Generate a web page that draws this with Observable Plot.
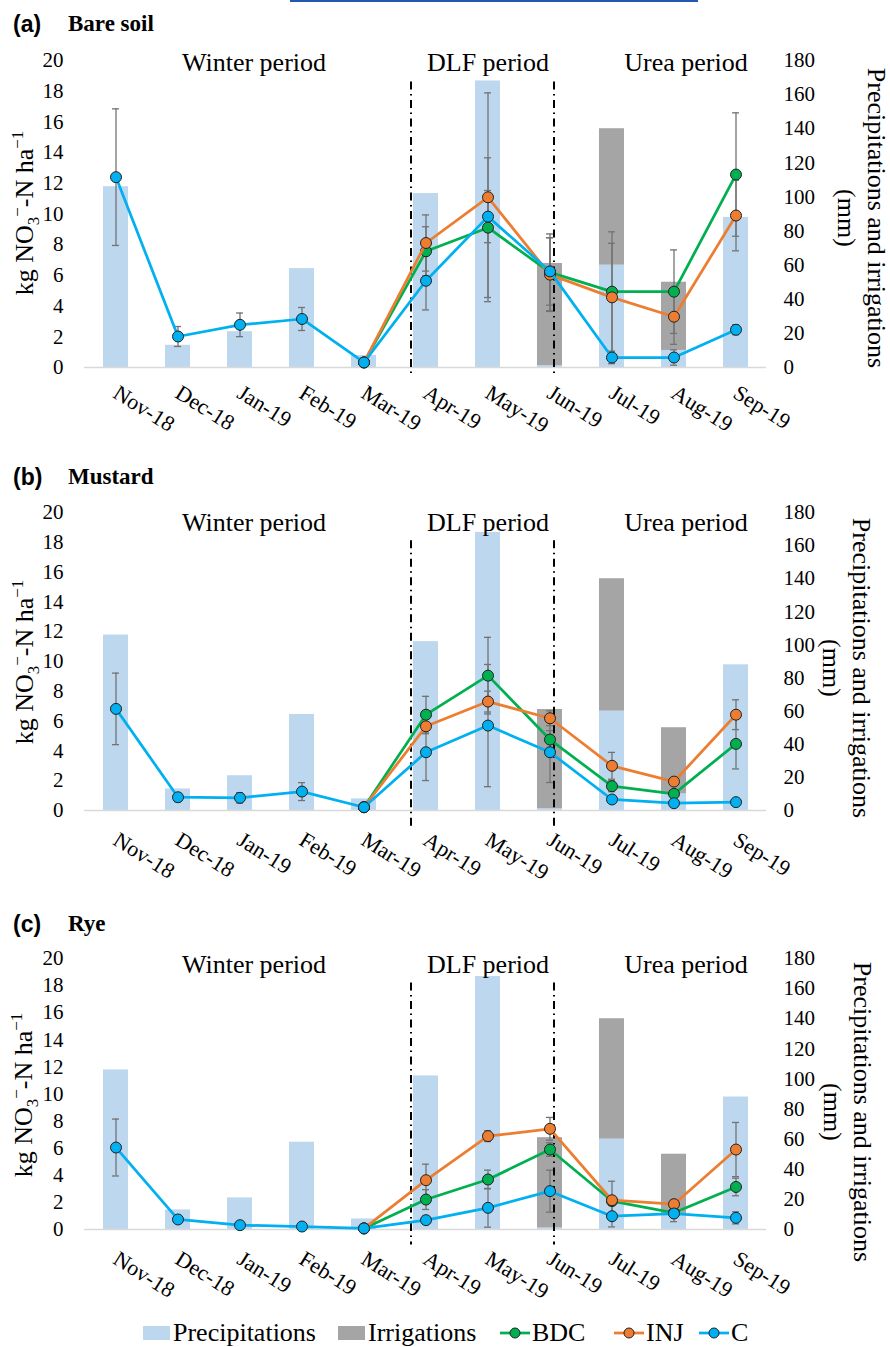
<!DOCTYPE html>
<html>
<head>
<meta charset="utf-8">
<script src="https://cdn.jsdelivr.net/npm/d3@7"></script>
<script src="https://cdn.jsdelivr.net/npm/@observablehq/plot@0.6"></script>
<style>
  body { margin: 0; background: #fff; }
  #root { position: relative; width: 890px; height: 1347px; overflow: hidden;
          font-family: "Liberation Serif", "Times New Roman", serif; color: #000; }
  .panel { position: absolute; left: 0; }
  .panel svg { overflow: visible; }
  .panel svg text { font-family: "Liberation Serif", "Times New Roman", serif; }
  .ptitle { position: absolute; font-size: 23px; line-height: 26px; white-space: nowrap; }
  .ptitle .lab { position: absolute; left: 13px; font-family: "Liberation Sans", Arial, sans-serif; font-weight: bold; }
  .ptitle .name { position: absolute; left: 68px; font-family: "Liberation Serif", serif; font-weight: bold; }
  .ytitle { position: absolute; font-size: 26px; line-height: 30px; white-space: nowrap;
            transform: translate(-50%, -50%) rotate(-90deg); }
  .ytitle sub, .ytitle sup { font-size: 17px; line-height: 0; }
  .rtitle { position: absolute; font-size: 26px; line-height: 30px; white-space: nowrap; text-align: center;
            transform: translate(-50%, -50%) rotate(90deg); }
  .leg { position: absolute; top: 1320px; height: 26px; font-size: 26px; line-height: 26px; white-space: nowrap;
         display: flex; align-items: center; font-family: "Liberation Serif", "Times New Roman", serif; }
  .leg .sw { display: inline-block; width: 27px; height: 14px; margin-right: 3px; }
  .leg svg { margin-right: 2px; }
</style>
</head>
<body>
<div id="root"></div>
<script>
// ---------------- DATA ----------------
const months = ["Nov-18","Dec-18","Jan-19","Feb-19","Mar-19","Apr-19","May-19","Jun-19","Jul-19","Aug-19","Sep-19"];

// mm per month (right axis)
const precipitation = [106, 13, 21, 58, 7, 102, 168, 1, 60, 10, 88];
const irrigation    = [0, 0, 0, 0, 0, 0, 0, 60, 80, 40, 0];

const seriesNames = ["BDC", "INJ", "C"];
const periodLabels  = ["Winter period", "DLF period", "Urea period"];
const periodMonths  = ["Jan-19", "May-19", "Aug-19"];
const dividerMonths = ["Apr-19", "Jun-19"];

// (a) Bare soil — kg NO3–-N ha–1
const bareBDC    = [null, null, null, null, 0.33, 7.57, 9.11, 6.2, 4.94, 4.94, 12.57];
const bareBDCerr = [null, null, null, null, 0, 1.6, 4.55, 2.5, 3.9, 2.72, 4.02];
const bareINJ    = [null, null, null, null, 0.33, 8.11, 11.09, 6.05, 4.57, 3.31, 9.9];
const bareINJerr = [null, null, null, null, 0, 1.83, 6.8, 2.4, 3.52, 1.8, 2.3];
const bareC      = [12.4, 2.02, 2.78, 3.16, 0.33, 5.65, 9.83, 6.26, 0.65, 0.65, 2.46];
const bareCerr   = [4.45, 0.65, 0.77, 0.75, 0.05, 1.9, 1.7, 2.2, 0.4, 0.5, 0.33];

// (b) Mustard
const mustBDC    = [null, null, null, null, 0.22, 6.43, 9.05, 4.76, 1.63, 1.12, 4.47];
const mustBDCerr = [null, null, null, null, 0, 1.23, 2.57, 0.6, 0.37, 0.2, 1.68];
const mustINJ    = [null, null, null, null, 0.22, 5.65, 7.31, 6.19, 3.0, 1.94, 6.43];
const mustINJerr = [null, null, null, null, 0, 0.5, 0.7, 0.5, 0.9, 0.2, 1.0];
const mustC      = [6.82, 0.89, 0.85, 1.27, 0.22, 3.91, 5.7, 3.91, 0.74, 0.49, 0.56];
const mustCerr   = [2.4, 0.3, 0.35, 0.6, 0.05, 1.9, 4.1, 2.03, 0.2, 0.1, 0.1];

// (c) Rye
const ryeBDC     = [null, null, null, null, 0.08, 2.21, 3.69, 5.9, 2.1, 1.23, 3.14];
const ryeBDCerr  = [null, null, null, null, 0, 0.73, 0.69, 0.5, 0.3, 0.3, 0.65];
const ryeINJ     = [null, null, null, null, 0.08, 3.64, 6.89, 7.43, 2.16, 1.87, 5.9];
const ryeINJerr  = [null, null, null, null, 0, 1.18, 0.4, 0.84, 1.4, 0.3, 2.0];
const ryeC       = [6.05, 0.74, 0.32, 0.22, 0.08, 0.69, 1.6, 2.83, 0.98, 1.18, 0.86];
const ryeCerr    = [2.1, 0.1, 0.05, 0.05, 0.02, 0.3, 1.43, 1.55, 0.79, 0.6, 0.45];

// ---------------- STYLE / LAYOUT ----------------
const SERIF = "Liberation Serif";
const colors = { BDC: "#00B050", INJ: "#ED7D31", C: "#00B0F0" };
const barColors = { Precipitations: "#BDD7EE", Irrigations: "#A5A5A5" };
const MM_PER_KG = 9; // 180 mm on the right axis ↔ 20 kg on the left axis

const panels = [
  { label: "(a)", name: "Bare soil", titleTop: 11, top: 40, height: 400, mt: 20, mb: 73,
    periodDy: 10, divTop: 18.6, divBottom: -0.5, xPad: 16,
    yTitle: [25, 213], rTitle: [861, 218],
    data: { BDC: [bareBDC, bareBDCerr], INJ: [bareINJ, bareINJerr], C: [bareC, bareCerr] } },
  { label: "(b)", name: "Mustard", titleTop: 464, top: 480, height: 400, mt: 32, mb: 70,
    periodDy: 18, divTop: 18.1, divBottom: -1.2, xPad: 20,
    yTitle: [25, 662], rTitle: [846, 668],
    data: { BDC: [mustBDC, mustBDCerr], INJ: [mustINJ, mustINJerr], C: [mustC, mustCerr] } },
  { label: "(c)", name: "Rye", titleTop: 911, top: 920, height: 380, mt: 38, mb: 71,
    periodDy: 14, divTop: 18.2, divBottom: -1.15, xPad: 20,
    yTitle: [24, 1095], rTitle: [847, 1112],
    data: { BDC: [ryeBDC, ryeBDCerr], INJ: [ryeINJ, ryeINJerr], C: [ryeC, ryeCerr] } }
];
const periodDx = [14, 0, 12];
const dividerDx = [-15, 4];

const root = document.getElementById("root");

// thin cropped rule seen at the very top of the source figure
const topRule = document.createElement("div");
Object.assign(topRule.style, { position: "absolute", left: "290px", top: "0px", width: "408px", height: "2px", background: "#2457b0" });
root.appendChild(topRule);

const rain = months.flatMap((m, i) => [
  { month: m, type: "Precipitations", mm: precipitation[i] },
  { month: m, type: "Irrigations", mm: irrigation[i] }
]);

for (const p of panels) {
  const marks = [];
  marks.push(Plot.barY(rain, { x: "month", y: d => d.mm / MM_PER_KG, fill: "type" }));
  marks.push(Plot.ruleY([0], { stroke: "#D9D9D9", strokeWidth: 1.5 }));

  // period dividers (dash-dot)
  dividerMonths.forEach((m, i) => {
    marks.push(Plot.ruleX([m], { x: d => d, y1: p.divTop, y2: p.divBottom, dx: dividerDx[i],
      stroke: "#000", strokeWidth: 2, strokeDasharray: "8,4.5,1.5,4.5" }));
  });

  // period labels
  periodLabels.forEach((t, i) => {
    marks.push(Plot.text([t], { x: () => periodMonths[i], y: 20, text: d => d, dx: periodDx[i], dy: p.periodDy,
      lineAnchor: "bottom", textAnchor: "middle", fontSize: 26, fontFamily: SERIF, fill: "#000" }));
  });

  const rows = {};
  for (const s of seriesNames) {
    const [vals, errs] = p.data[s];
    rows[s] = months.map((m, i) => ({ month: m, v: vals[i], e: errs[i] })).filter(d => d.v != null);
  }
  // error bars
  for (const s of seriesNames) {
    const eb = rows[s].filter(d => d.e > 0);
    marks.push(Plot.ruleX(eb, { x: "month", y1: d => d.v - d.e, y2: d => d.v + d.e, stroke: "#737373", strokeWidth: 1.3 }));
    marks.push(Plot.tickY(eb, { x: "month", y: d => d.v - d.e, stroke: "#737373", strokeWidth: 1.3, insetLeft: 9, insetRight: 9 }));
    marks.push(Plot.tickY(eb, { x: "month", y: d => d.v + d.e, stroke: "#737373", strokeWidth: 1.3, insetLeft: 9, insetRight: 9 }));
  }
  // lines + markers
  for (const s of seriesNames) {
    marks.push(Plot.line(rows[s], { x: "month", y: "v", stroke: colors[s], strokeWidth: 2.75 }));
    marks.push(Plot.dot(rows[s], { x: "month", y: "v", r: 5.5, fill: colors[s], stroke: "#222", strokeWidth: 1 }));
  }

  // axes
  marks.push(Plot.axisY(d3.range(0, 21, 2), { anchor: "left", tickSize: 0, tickPadding: 21, fontSize: 21,
    fontFamily: SERIF, fill: "#000", label: null }));
  marks.push(Plot.axisY(d3.range(0, 181, 20).map(v => v / MM_PER_KG), { anchor: "right", tickSize: 0, tickPadding: 17,
    fontSize: 21, fontFamily: SERIF, fill: "#000", label: null, tickFormat: d => String(Math.round(d * MM_PER_KG)) }));
  marks.push(Plot.axisX({ tickSize: 0, tickPadding: p.xPad, tickRotate: 32, textAnchor: "start", lineAnchor: "top",
    dx: 4, fontSize: 22, fontFamily: SERIF, fill: "#000", label: null }));

  const chart = Plot.plot({
    width: 890, height: p.height,
    marginLeft: 84, marginRight: 124, marginTop: p.mt, marginBottom: p.mb,
    x: { type: "band", domain: months, paddingInner: 0.6, paddingOuter: 0.3 },
    y: { domain: [0, 20] },
    color: { domain: Object.keys(barColors), range: Object.values(barColors) },
    style: { fontFamily: "'Liberation Serif', 'Times New Roman', serif", fontSize: "21px", color: "#000",
             background: "transparent", overflow: "visible" },
    marks
  });

  const wrap = document.createElement("div");
  wrap.className = "panel";
  wrap.style.top = p.top + "px";
  wrap.appendChild(chart);
  root.appendChild(wrap);

  const title = document.createElement("div");
  title.className = "ptitle";
  title.style.top = p.titleTop + "px";
  title.style.left = "0px";
  title.innerHTML = `<span class="lab">${p.label}</span><span class="name">${p.name}</span>`;
  root.appendChild(title);

  const yt = document.createElement("div");
  yt.className = "ytitle";
  yt.style.left = p.yTitle[0] + "px";
  yt.style.top = p.yTitle[1] + "px";
  yt.innerHTML = "kg NO<sub>3</sub><sup>−</sup>-N ha<sup>−1</sup>";
  root.appendChild(yt);

  const rt = document.createElement("div");
  rt.className = "rtitle";
  rt.style.left = p.rTitle[0] + "px";
  rt.style.top = p.rTitle[1] + "px";
  rt.innerHTML = "Precipitations and irrigations<br>(mm)";
  root.appendChild(rt);
}

// legend
const legendItems = [
  { key: "Precipitations", kind: "bar", left: 143 },
  { key: "Irrigations", kind: "bar", left: 338 },
  { key: "BDC", kind: "line", left: 500 },
  { key: "INJ", kind: "line", left: 614 },
  { key: "C", kind: "line", left: 699 }
];
for (const it of legendItems) {
  const el = document.createElement("div");
  el.className = "leg";
  el.style.left = it.left + "px";
  if (it.kind === "bar") {
    el.innerHTML = `<span class="sw" style="background:${barColors[it.key]}"></span><span>${it.key}</span>`;
  } else {
    const c = colors[it.key];
    el.innerHTML = `<svg width="30" height="14"><line x1="0" x2="30" y1="7" y2="7" stroke="${c}" stroke-width="2.75"/>` +
      `<circle cx="15" cy="7" r="5" fill="${c}" stroke="#222" stroke-width="1"/></svg><span>${it.key}</span>`;
  }
  root.appendChild(el);
}
</script>
</body>
</html>
